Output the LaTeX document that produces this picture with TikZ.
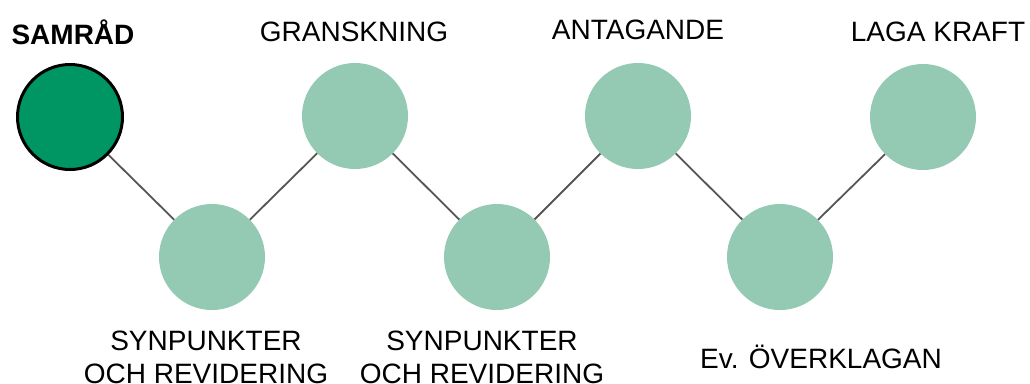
\documentclass[tikz,border=0pt]{standalone}
\usepackage{fontspec}
\setmainfont{Liberation Sans}
\definecolor{darkgr}{RGB}{0,150,100}
\definecolor{lightgr}{RGB}{148,201,180}
\definecolor{linegr}{RGB}{85,85,85}
\begin{document}
\begin{tikzpicture}[x=1pt,y=-1pt,
  stage/.style={circle,fill=lightgr,minimum size=106pt,inner sep=0pt},
  current/.style={circle,fill=darkgr,draw=black,line width=3pt,minimum size=105pt,inner sep=0pt},
  conn/.style={draw=linegr,line width=1.8pt},
  lbl/.style={font=\fontsize{28}{30}\selectfont,text=black,inner sep=0pt,align=center}]
\useasboundingbox (0,0) rectangle (1030,383);
\node[current] (c1) at (70,117) {};
\node[stage] (c2) at (212,257) {};
\node[stage] (c3) at (355,116) {};
\node[stage] (c4) at (497,257) {};
\node[stage] (c5) at (638,116) {};
\node[stage] (c6) at (780,257) {};
\node[stage] (c7) at (923,117) {};
\draw[conn] (c1) -- (c2);
\draw[conn] (c2) -- (c3);
\draw[conn] (c3) -- (c4);
\draw[conn] (c4) -- (c5);
\draw[conn] (c5) -- (c6);
\draw[conn] (c6) -- (c7);
\node[lbl,font=\fontsize{28}{30}\selectfont\bfseries] (t1) at (73,32) {SAMRÅD};
\node[lbl] (t3) at (354,32) {GRANSKNING};
\node[lbl] (t5) at (638,30) {ANTAGANDE};
\node[lbl] (t7) at (938,32) {LAGA KRAFT};
\node[lbl,font=\fontsize{28}{33}\selectfont] (t2) at (206,357) {SYNPUNKTER\\OCH REVIDERING};
\node[lbl,font=\fontsize{28}{33}\selectfont] (t4) at (482,357) {SYNPUNKTER\\OCH REVIDERING};
\node[lbl] (t6) at (821,357) {Ev. ÖVERKLAGAN};
\end{tikzpicture}
\end{document}
